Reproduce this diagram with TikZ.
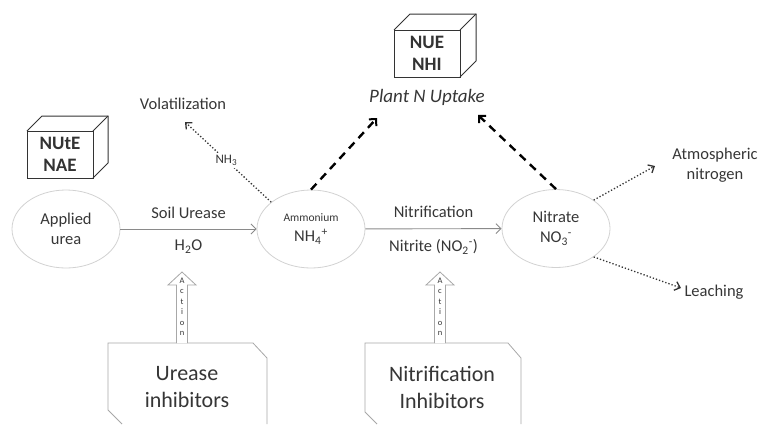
\documentclass[tikz,border=0pt]{standalone}
\usepackage{fontspec}
\setmainfont{Carlito}
\usepackage{xcolor}
\usetikzlibrary{arrows.meta, shapes, positioning}

\definecolor{txtgray}{HTML}{363636}
\definecolor{ringgray}{HTML}{D2D2D2}
\definecolor{linegray}{HTML}{8A8A8A}
\definecolor{boxgray}{HTML}{A8A8A8}

\begin{document}
\begin{tikzpicture}[
  x=1pt, y=-1pt,
  font=\fontsize{16.5}{20}\selectfont, text=txtgray,
  pool/.style={draw=ringgray, ellipse, line width=0.8pt, align=center, minimum width=108pt, minimum height=78pt, inner sep=0pt},
  cube/.style={draw=black!80, line width=1pt, outer sep=0pt, align=center, minimum width=66pt, minimum height=47pt, text=black!80, font=\bfseries\fontsize{19}{22}\selectfont},
  inhib/.style={align=center, font=\fontsize{22}{27}\selectfont},
  small/.style={font=\fontsize{13}{15}\selectfont},
  actletters/.style={align=center, font=\fontsize{8.5}{10.5}\selectfont},
  flow/.style={draw=linegray, line width=0.9pt, -{Straight Barb[length=5pt, width=10pt]}},
  loss/.style={draw=black!80, line width=1.3pt, dotted, -{Straight Barb[length=5pt, width=9pt, line width=1.3pt]}},
  uptake/.style={draw=black, line width=2.4pt, dash pattern=on 8pt off 6pt, -{Straight Barb[length=5pt, width=10pt, line width=2pt]}},
  action/.style={draw=boxgray, fill=white, line width=0.8pt}
]
\useasboundingbox (0,0) rectangle (763,424);

% Nodes
\node[pool] (urea) at (66,229) {Applied\\urea};
\node[pool] (amm) at (311,229) {{\fontsize{11.5}{13}\selectfont Ammonium}\\NH\textsubscript{4}\textsuperscript{+}};
\node[pool] (nit) at (556,228.5) {Nitrate\\NO\textsubscript{3}\textsuperscript{-}};

\node[cube] (nute) at (60,154.5) {NUtE\\NAE};
\draw[draw=black!80, line width=1pt] (nute.north west) -- ++(15,-15) -- ++(66,0) -- ++(0,47) -- (nute.south east);
\draw[draw=black!80, line width=1pt] (nute.north east) -- ++(15,-15);

\node[cube] (nue) at (427,53.5) {NUE\\NHI};
\draw[draw=black!80, line width=1pt] (nue.north west) -- ++(16,-16) -- ++(66,0) -- ++(0,47) -- (nue.south east);
\draw[draw=black!80, line width=1pt] (nue.north east) -- ++(16,-16);
\node[below=9pt of nue, font=\itshape\fontsize{19}{22}\selectfont] (plant) {Plant N Uptake};

\node (volat) at (183,104) {Volatilization};
\node[align=center] (atmo) at (715,165) {Atmospheric\\nitrogen};
\node (leach) at (714,292) {Leaching};

\coordinate (volat-tip) at (185,122);
\coordinate (plant-l) at (377,118);
\coordinate (plant-r) at (478,115);
\coordinate (atmo-tip) at (655,166);
\coordinate (leach-tip) at (681,288);

% Arrows
\draw[flow] (urea) -- (amm)
  node[midway, above=7pt, anchor=south] (urease) {Soil Urease}
  node[midway, below=7pt, anchor=north] (water) {H\textsubscript{2}O};
\draw[flow] (amm) -- (nit)
  node[midway, above=7pt, anchor=south] (nitri) {Nitrification}
  node[midway, below=7pt, anchor=north] (nitrite) {Nitrite (NO\textsubscript{2}\textsuperscript{-})};

\draw[loss] (amm.146) -- (volat-tip)
  node[pos=0.52, fill=white, small, inner sep=2pt] (nh3) {NH\textsubscript{3}};
\draw[loss] (nit.37) -- (atmo-tip);
\draw[loss] (nit.-37) -- (leach-tip);

\draw[uptake] (amm.north) -- (plant-l);
\draw[uptake] (nit.north) -- (plant-r);

% Inhibitors
\draw[action] (122,424) -- (108,410) -- (108,343) -- (253,343) -- (267,358) -- (267,424);
\node[inhib] (ureinh) at (187,387) {Urease\\inhibitors};
\draw[action] (176.5,343) -- (176.5,285) -- (168,285) -- (182,272) -- (196,285) -- (187.5,285) -- (187.5,343);
\node[actletters] (act1) at (182,307) {A\\c\\t\\i\\o\\n};

\draw[action] (377,424) -- (365,412) -- (365,343) -- (508,343) -- (521,358) -- (521,424);
\node[inhib] (nitinh) at (442,387) {Nitrification\\Inhibitors};
\draw[action] (434.5,343) -- (434.5,285) -- (426,285) -- (440,272) -- (454,285) -- (445.5,285) -- (445.5,343);
\node[actletters] (act2) at (440,307) {A\\c\\t\\i\\o\\n};

\end{tikzpicture}
\end{document}
